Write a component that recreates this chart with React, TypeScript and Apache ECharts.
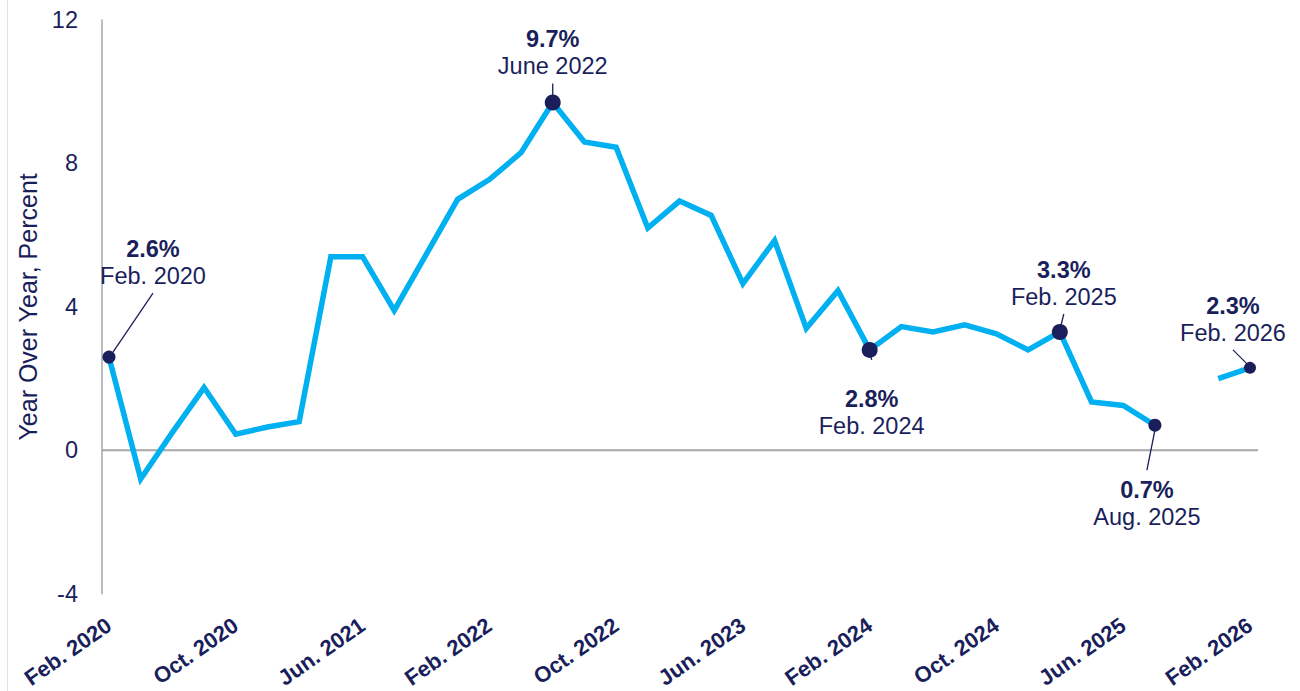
import React, { useEffect, useRef } from "react";
import * as echarts from "echarts";

// ---- Data ----
const categories: string[] = [
  "Feb. 2020", "Apr. 2020", "Jun. 2020", "Aug. 2020", "Oct. 2020", "Dec. 2020",
  "Feb. 2021", "Apr. 2021", "Jun. 2021", "Aug. 2021", "Oct. 2021", "Dec. 2021",
  "Feb. 2022", "Apr. 2022", "Jun. 2022", "Aug. 2022", "Oct. 2022", "Dec. 2022",
  "Feb. 2023", "Apr. 2023", "Jun. 2023", "Aug. 2023", "Oct. 2023", "Dec. 2023",
  "Feb. 2024", "Apr. 2024", "Jun. 2024", "Aug. 2024", "Oct. 2024", "Dec. 2024",
  "Feb. 2025", "Apr. 2025", "Jun. 2025", "Aug. 2025", "Oct. 2025", "Dec. 2025",
  "Feb. 2026",
];

const values: (number | null)[] = [
  2.6, -0.8, 0.5, 1.75, 0.45, 0.65,
  0.8, 5.4, 5.4, 3.9, 5.45, 7.0,
  7.55, 8.3, 9.7, 8.6, 8.45, 6.2,
  6.95, 6.55, 4.65, 5.85, 3.4, 4.45,
  2.8, 3.45, 3.3, 3.5, 3.25, 2.8,
  3.3, 1.35, 1.25, 0.7, null, 2.0,
  2.3,
];

const yTicks = { min: -4, max: 12, interval: 4 };
const yAxisTitle = "Year Over Year, Percent";
const baselineValue = 0;

const annotationIndex: number[] = [0, 14, 24, 30, 33, 36];
const annotationDates: string[] = [
  "Feb. 2020", "June 2022", "Feb. 2024", "Feb. 2025", "Aug. 2025", "Feb. 2026",
];

// ---- Styles ----
const NAVY = "#1a1f5c";
const CYAN = "#00b0f0";
const GRAY = "#a6a6a6";
const FONT = "'Liberation Sans', Arial, Helvetica, sans-serif";

// label layout offsets (pixels, relative to the annotated point)
type Ann = { r: number; tx: number; ty: number; line?: [number, number, number, number] };
const annLayout: Ann[] = [
  { r: 6.5, tx: 44, ty: -108, line: [4, -5, 44, -64] },
  { r: 8, tx: 0, ty: -63, line: [0, -19, 0, -6] },
  { r: 8, tx: 2, ty: 49, line: [1, 5, 2, 10] },
  { r: 8, tx: 4, ty: -62, line: [4, -18, 1, -6] },
  { r: 6.5, tx: -8, ty: 65, line: [0, 5, -8, 45] },
  { r: 6, tx: -17, ty: -62, line: [-17, -18, -3, -4] },
];

export default function App() {
  const ref = useRef<HTMLDivElement>(null);

  useEffect(() => {
    if (!ref.current) return;
    const chart = echarts.init(ref.current, null, { renderer: "svg" });

    const annData = annotationIndex.map((i, k) => [i, values[i] as number, k]);

    const option: any = {
      animation: false,
      backgroundColor: "transparent",
      grid: { left: 109, right: 50, top: 20, bottom: 96, containLabel: false },
      xAxis: {
        type: "category",
        data: categories,
        boundaryGap: false,
        axisLine: { show: false, onZero: false },
        axisTick: { show: false },
        splitLine: { show: false },
        axisLabel: {
          interval: 3,
          rotate: 35,
          margin: 29,
          color: NAVY,
          fontWeight: "bold",
          fontSize: 22,
          fontFamily: FONT,
        },
      },
      yAxis: {
        type: "value",
        min: yTicks.min,
        max: yTicks.max,
        interval: yTicks.interval,
        offset: 7,
        name: yAxisTitle,
        nameLocation: "middle",
        nameGap: 62,
        nameTextStyle: { color: NAVY, fontSize: 25, fontFamily: FONT },
        axisLine: { show: true, lineStyle: { color: GRAY, width: 1.5 } },
        axisTick: { show: false },
        splitLine: { show: false },
        axisLabel: { color: NAVY, fontSize: 23.5, fontFamily: FONT, margin: 24 },
      },
      series: [
        {
          // zero baseline, extended slightly past the plot edges like the reference
          type: "custom",
          data: [[0, baselineValue]],
          encode: { x: 0, y: 1 },
          z: 1,
          silent: true,
          renderItem: (params: any, api: any) => {
            const cs = params.coordSys;
            const y = api.coord([0, api.value(1)])[1];
            return {
              type: "line",
              shape: { x1: cs.x - 7, y1: y, x2: cs.x + cs.width + 8, y2: y },
              style: { stroke: GRAY, lineWidth: 2 },
            };
          },
        },
        {
          type: "line",
          data: values,
          symbol: "none",
          connectNulls: false,
          lineStyle: { color: CYAN, width: 5.5, join: "miter" },
          silent: true,
          z: 3,
        },
        {
          type: "custom",
          data: annData,
          encode: { x: 0, y: 1 },
          z: 5,
          silent: true,
          renderItem: (params: any, api: any) => {
            const idx = api.value(0);
            const val = api.value(1);
            const k = api.value(2);
            const p = api.coord([idx, val]);
            const a = annLayout[k];
            const children: any[] = [];
            if (a.line) {
              children.push({
                type: "line",
                shape: {
                  x1: p[0] + a.line[0], y1: p[1] + a.line[1],
                  x2: p[0] + a.line[2], y2: p[1] + a.line[3],
                },
                style: { stroke: NAVY, lineWidth: 1.3 },
              });
            }
            children.push({
              type: "circle",
              shape: { cx: p[0], cy: p[1], r: a.r },
              style: { fill: NAVY },
            });
            children.push({
              type: "text",
              style: {
                text: `${Number(val).toFixed(1)}%`,
                x: p[0] + a.tx,
                y: p[1] + a.ty,
                fill: NAVY,
                fontSize: 23.5,
                fontWeight: "bold",
                fontFamily: FONT,
                align: "center",
                verticalAlign: "middle",
              },
            });
            children.push({
              type: "text",
              style: {
                text: annotationDates[k],
                x: p[0] + a.tx,
                y: p[1] + a.ty + 27,
                fill: NAVY,
                fontSize: 23.5,
                fontFamily: FONT,
                align: "center",
                verticalAlign: "middle",
              },
            });
            return { type: "group", children };
          },
        },
      ],
    };

    chart.setOption(option);
    return () => chart.dispose();
  }, []);

  return (
    <div style={{ position: "absolute", left: 0, top: 0, width: 1300, height: 691, background: "#ffffff" }}>
      <div style={{ position: "absolute", left: 7, top: 0, width: 1, height: 691, background: "#e3e3e3" }} />
      <div ref={ref} style={{ position: "absolute", left: 0, top: 0, width: 1300, height: 691 }} />
    </div>
  );
}
